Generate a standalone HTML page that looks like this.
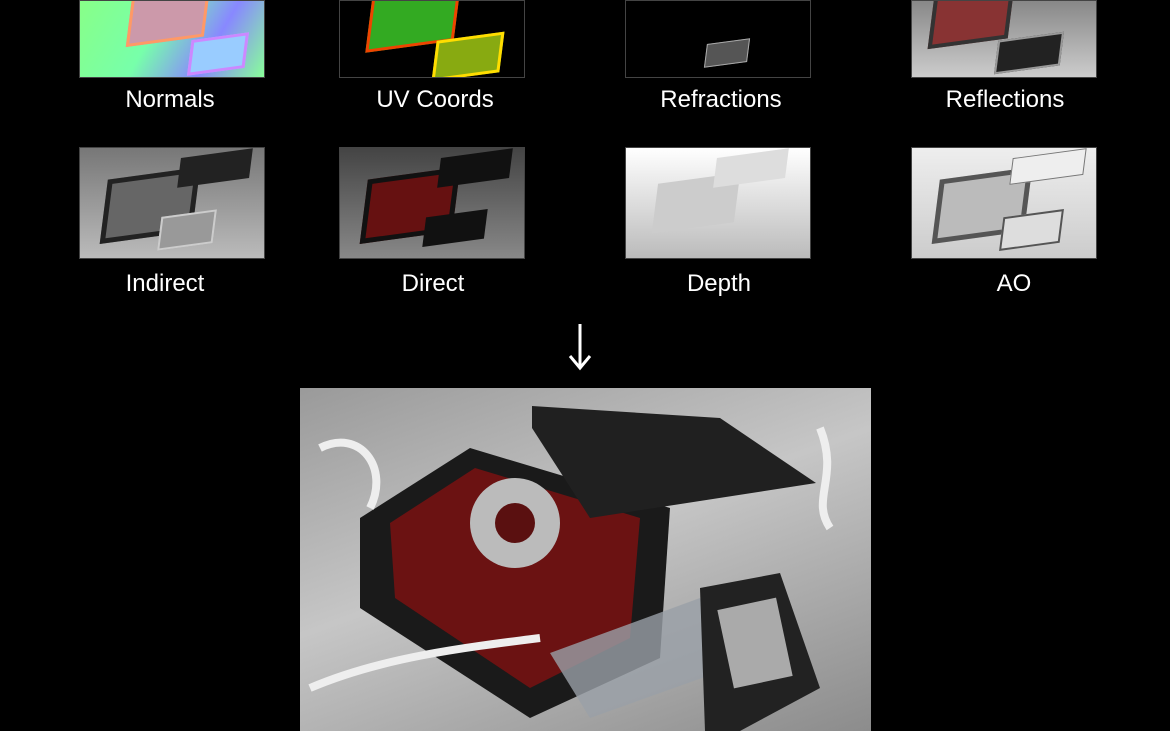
<!DOCTYPE html>
<html><head><meta charset="utf-8">
<style>
body{margin:0;background:#000;width:1170px;height:731px;overflow:hidden;position:relative;font-family:"Liberation Sans",sans-serif}
.t{position:absolute;width:186px;border:1px solid #444;box-sizing:border-box;overflow:hidden}
.r1{top:0;height:78px}
.r2{top:147px;height:112px}
.lbl{position:absolute;color:#fff;font-size:24px;width:260px;text-align:center}
.box{position:absolute;transform:skew(-15deg) rotate(-8deg)}
</style></head><body>
<div class="t r1" style="left:79px;background:linear-gradient(120deg,#8f8 0%,#7fa 40%,#88f 70%,#8f9 100%)">
 <div class="box" style="left:50px;top:-10px;width:70px;height:45px;background:#c9a;border:3px solid #f96"></div>
 <div class="box" style="left:110px;top:35px;width:50px;height:30px;background:#9cf;border:3px solid #c8f"></div>
</div>
<div class="t r1" style="left:339px;background:#000">
 <div class="box" style="left:30px;top:-10px;width:80px;height:50px;background:#3a2;border:3px solid #e40"></div>
 <div class="box" style="left:95px;top:35px;width:60px;height:35px;background:#8a1;border:3px solid #fd0"></div>
</div>
<div class="t r1" style="left:625px;background:#000">
 <div class="box" style="left:80px;top:40px;width:40px;height:22px;background:#555;border:1px solid #aaa"></div>
</div>
<div class="t r1" style="left:911px;background:linear-gradient(#888,#ccc)">
 <div class="box" style="left:20px;top:-10px;width:70px;height:45px;background:#833;border:4px solid #333"></div>
 <div class="box" style="left:85px;top:35px;width:60px;height:30px;background:#222;border:2px solid #999"></div>
</div>
<div class="lbl" style="left:40px;top:86px">Normals</div>
<div class="lbl" style="left:305px;top:86px">UV Coords</div>
<div class="lbl" style="left:591px;top:86px">Refractions</div>
<div class="lbl" style="left:875px;top:86px">Reflections</div>

<div class="t r2" style="left:79px;background:linear-gradient(#777,#bbb)">
 <div class="box" style="left:25px;top:25px;width:80px;height:55px;background:#666;border:5px solid #222"></div>
 <div class="box" style="left:100px;top:5px;width:70px;height:30px;background:#222"></div>
 <div class="box" style="left:80px;top:65px;width:50px;height:30px;background:#999;border:2px solid #ccc"></div>
</div>
<div class="t r2" style="left:339px;background:linear-gradient(#444,#888)">
 <div class="box" style="left:25px;top:25px;width:80px;height:55px;background:#611;border:5px solid #111"></div>
 <div class="box" style="left:100px;top:5px;width:70px;height:30px;background:#111"></div>
 <div class="box" style="left:85px;top:65px;width:60px;height:30px;background:#111"></div>
</div>
<div class="t r2" style="left:625px;background:linear-gradient(#fff,#bbb)">
 <div class="box" style="left:30px;top:30px;width:80px;height:50px;background:#ccc"></div>
 <div class="box" style="left:90px;top:5px;width:70px;height:30px;background:#ddd"></div>
</div>
<div class="t r2" style="left:911px;background:linear-gradient(#eee,#ccc)">
 <div class="box" style="left:25px;top:25px;width:80px;height:55px;background:#bbb;border:5px solid #555"></div>
 <div class="box" style="left:100px;top:5px;width:70px;height:25px;background:#eee;border:1px solid #777"></div>
 <div class="box" style="left:90px;top:65px;width:55px;height:30px;background:#ddd;border:2px solid #555"></div>
</div>
<div class="lbl" style="left:35px;top:270px">Indirect</div>
<div class="lbl" style="left:303px;top:270px">Direct</div>
<div class="lbl" style="left:589px;top:270px">Depth</div>
<div class="lbl" style="left:884px;top:270px">AO</div>

<svg style="position:absolute;left:565px;top:322px" width="30" height="50">
 <line x1="15" y1="2" x2="15" y2="44" stroke="#fff" stroke-width="3"/>
 <polyline points="5,34 15,46 25,34" fill="none" stroke="#fff" stroke-width="3"/>
</svg>

<div style="position:absolute;left:300px;top:388px;width:571px;height:343px;background:linear-gradient(160deg,#9a9a9a 0%,#c6c6c6 45%,#8c8c8c 100%);overflow:hidden">
 <svg width="571" height="343">
  <polygon points="60,130 170,60 370,120 360,270 230,330 60,220" fill="#1a1a1a"/>
  <polygon points="90,135 175,80 340,130 330,250 230,300 95,210" fill="#6b1212"/>
  <polygon points="232,18 420,30 516,95 290,130 232,40" fill="#202020"/>
  <circle cx="215" cy="135" r="45" fill="#bbb"/>
  <circle cx="215" cy="135" r="20" fill="#5a1010"/>
  <polygon points="250,265 400,210 430,280 290,330" fill="#9aa0a8" opacity="0.8"/>
  <polygon points="400,200 480,185 520,300 440,343 405,343" fill="#222"/>
  <rect x="425" y="215" width="60" height="80" fill="#aaa" transform="rotate(-12 455 255)"/>
  <path d="M20,60 C60,40 90,80 70,120 M520,40 C540,90 510,110 530,140 M10,300 C80,270 160,260 240,250" stroke="#eee" stroke-width="8" fill="none"/>
 </svg>
</div>
</body></html>
